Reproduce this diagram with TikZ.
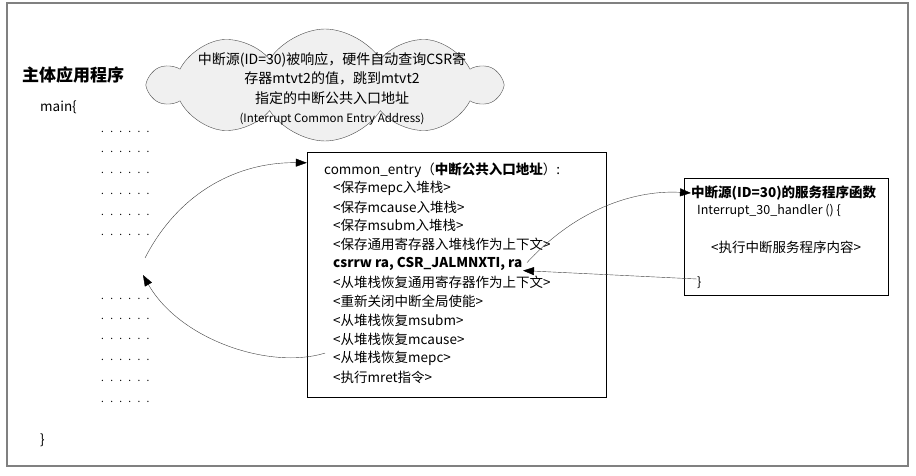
\documentclass[tikz,border=0pt]{standalone}
\usepackage{fontspec}
\setmainfont{Noto Sans CJK SC}
\usetikzlibrary{arrows.meta, shapes.symbols, positioning, calc}
\tikzset{
  outer/.style={draw=black!50, line width=1.6pt},
  codebox/.style={draw, thin, rectangle, inner sep=0pt},
  codeline/.style={anchor=west, inner sep=0pt, font=\fontsize{13.5}{16}\selectfont},
  smallline/.style={codeline, font=\fontsize{12.5}{15}\selectfont},
  heading/.style={anchor=west, inner sep=0pt, font=\bfseries\fontsize{17}{20}\selectfont},
  dotrow/.style={anchor=west, inner sep=0pt, font=\fontsize{10}{12}\selectfont},
  link/.style={draw=black!75, thin, -{Triangle[length=11pt,width=8pt,black]}}
}
\newcommand{\dotline}{.\hspace{6.3pt}.\hspace{6.3pt}.\hspace{6.3pt}.\hspace{6.3pt}.\hspace{6.3pt}.}

\begin{document}
\begin{tikzpicture}[x=1pt, y=-1pt]
\useasboundingbox (0,0) rectangle (916,476);

% outer frame
\draw[outer] (7,3) rectangle (908,466);

% main program
\node[heading] (apptitle) at (22,75) {主体应用程序};
\node[codeline] (mainopen) at (40,107) {main\{};
\foreach \y in {132,152,173,194,215,235,299,319,339,360,381,402}{
  \node[dotrow] (d\y) at (101,\y) {\dotline};
}
\node[codeline] (mainclose) at (40,440) {\}};

% cloud note
\node[cloud, cloud puffs=10, cloud puff arc=115, cloud ignores aspect,
      minimum width=350pt, minimum height=112pt,
      draw=black!70, fill=black!6] (bubble) at (325,85) {};
\node[align=center, inner sep=0pt, font=\fontsize{14}{19.5}\selectfont] (bubbletext) at (332,89)
  {中断源(ID=30)被响应，硬件自动查询CSR寄\\存器mtvt2的值，跳到mtvt2\\指定的中断公共入口地址\\
   {\fontsize{11.5}{19.5}\selectfont (Interrupt Common Entry Address)}};

% common entry
\node[codebox, minimum width=299pt, minimum height=245pt] (entry) at (456.5,274.5) {};
\node[codeline] (l0) at (324,170) {common\_entry（\textbf{中断公共入口地址}）:};
\foreach \i/\t in {1/{<保存mepc入堆栈>}, 2/{<保存mcause入堆栈>}, 3/{<保存msubm入堆栈>},
                   4/{<保存通用寄存器入堆栈作为上下文>}, 5/{\textbf{csrrw ra, CSR\_JALMNXTI, ra}},
                   6/{<从堆栈恢复通用寄存器作为上下文>}, 7/{<重新关闭中断全局使能>},
                   8/{<从堆栈恢复msubm>}, 9/{<从堆栈恢复mcause>}, 10/{<从堆栈恢复mepc>},
                   11/{<执行mret指令>}}{
  \node[codeline] (l\i) at (333,{188+18.9*(\i-1)}) {\t};
}

% interrupt handler
\node[codebox, minimum width=204pt, minimum height=117pt] (isr) at (786,236.5) {};
\node[codeline, font=\bfseries\fontsize{13.5}{16}\selectfont] (isrtitle) at (691,193) {中断源(ID=30)的服务程序函数};
\node[smallline] (isrhead) at (697,211) {Interrupt\_30\_handler () \{};
\node[codeline] (isrbody) at (711,247) {<执行中断服务程序内容>};
\node[smallline] (isrclose) at (697,283) {\}};

% arrows
\coordinate (call) at (145,258);
\coordinate (back) at (143,275);
\draw[link] (call) .. controls (180,190) and (240,162) .. ([yshift=-11pt]entry.north west);
\draw[link] ($(l10.west)+(-8,-5)$) .. controls (270,370) and (180,340) .. (back);
\draw[link] ($(l5.west)+(194,-1)$) .. controls (580,205) and (640,190) .. (isrtitle.west);
\draw[link] ([yshift=4pt]isrclose.west) -- ($(l5.west)+(190,7)$);

\end{tikzpicture}
\end{document}
